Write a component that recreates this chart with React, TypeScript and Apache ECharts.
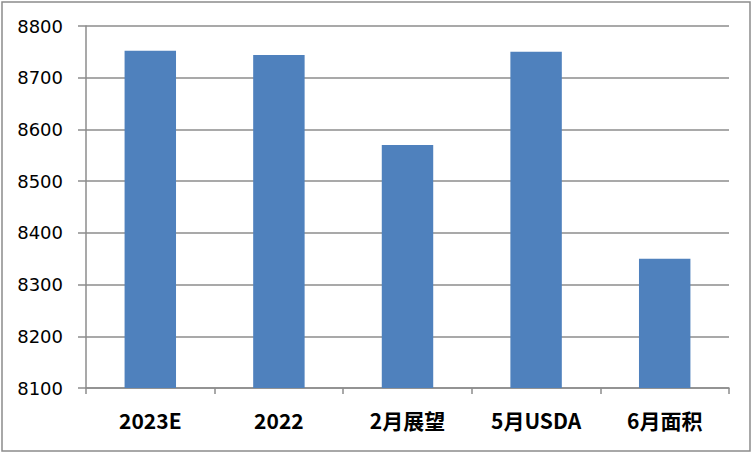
import React, { useEffect, useRef } from "react";
import * as echarts from "echarts";

const categories = ["2023E", "2022", "2月展望", "5月USDA", "6月面积"];
const values = [8752, 8744, 8570, 8750, 8350];
const yMin = 8100;
const yMax = 8800;
const yInterval = 100;

export default function App() {
  const ref = useRef<HTMLDivElement>(null);
  useEffect(() => {
    document.body.style.margin = "0";
    const chart = echarts.init(ref.current!, null, { renderer: "svg" });
    chart.setOption({
      animation: false,
      backgroundColor: "#ffffff",
      graphic: [
        {
          type: "rect",
          shape: { x: 2, y: 2, width: 748, height: 449 },
          style: { fill: "none", stroke: "#8c8c8c", lineWidth: 1.5 },
          silent: true,
        },
      ],
      grid: { left: 86, right: 25, top: 26, bottom: 66 },
      xAxis: {
        type: "category",
        data: categories,
        axisLine: { show: true, lineStyle: { color: "#8c8c8c", width: 1.5 } },
        axisTick: { show: true, alignWithLabel: false, length: 6, lineStyle: { color: "#8c8c8c", width: 1.5 } },
        axisLabel: {
          color: "#000",
          fontFamily: "Noto Sans CJK SC",
          fontWeight: "bold",
          fontSize: 21,
          margin: 21,
        },
      },
      yAxis: {
        type: "value",
        min: yMin,
        max: yMax,
        interval: yInterval,
        axisLine: { show: true, lineStyle: { color: "#8c8c8c", width: 1.5 } },
        axisTick: { show: true, length: 8, lineStyle: { color: "#8c8c8c", width: 1.5 } },
        splitLine: { show: true, lineStyle: { color: "#8c8c8c", width: 1.5 } },
        axisLabel: {
          color: "#000",
          fontFamily: "DejaVu Sans",
          fontSize: 18,
          margin: 23,
          formatter: (v: number) => String(v),
        },
      },
      series: [
        {
          type: "bar",
          data: values,
          barWidth: "40%",
          itemStyle: { color: "#4f81bd" },
        },
      ],
    });
    return () => chart.dispose();
  }, []);
  return <div ref={ref} style={{ width: 754, height: 454 }} />;
}
